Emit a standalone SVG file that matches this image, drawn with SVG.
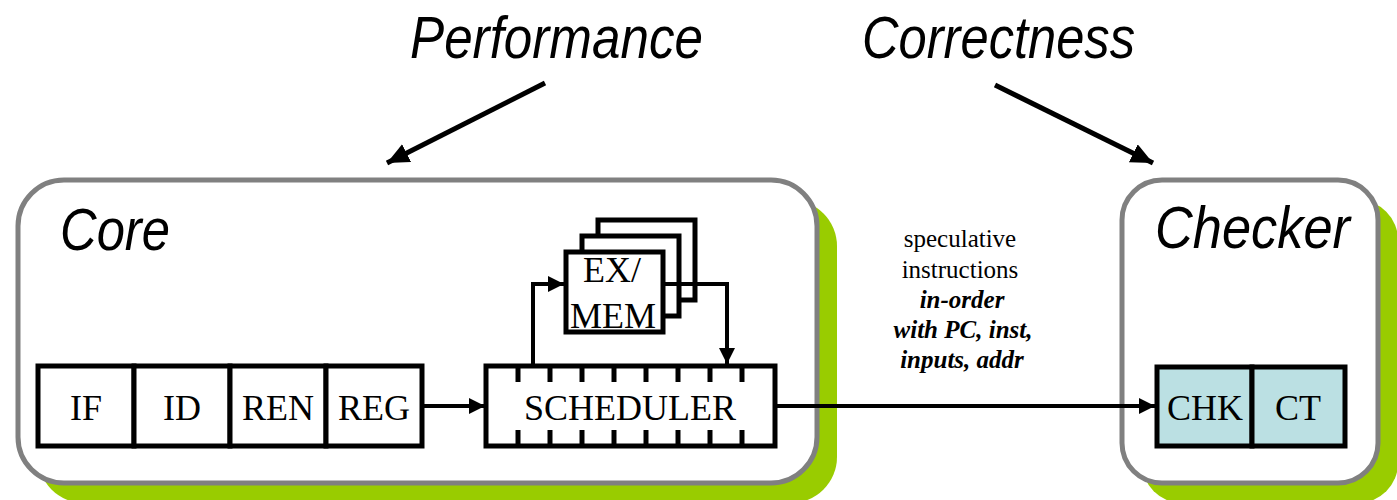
<svg xmlns="http://www.w3.org/2000/svg" width="1397" height="500" viewBox="0 0 1397 500">
  <style>
    .title { font-family: "Liberation Sans", Arial, sans-serif; font-style: italic; font-size: 60px; fill: #000; }
    .lbl { font-family: "Liberation Serif", "Times New Roman", serif; font-size: 36px; fill: #000; text-anchor: middle; }
    .note { font-family: "Liberation Serif", "Times New Roman", serif; font-size: 25px; fill: #000; text-anchor: middle; }
    .note-b { font-weight: bold; font-style: italic; }
    .shadow { fill: #99CC00; }
    .unit { fill: #FFFFFF; stroke: #808080; stroke-width: 5; }
    .stage { fill: #FFFFFF; stroke: #000; stroke-width: 5; }
    .chk { fill: #BBE0E3; stroke: #000; stroke-width: 5; }
    .tick { stroke: #000; stroke-width: 5; }
    .wire { fill: none; stroke: #000; stroke-width: 4; }
    .wire-thick { fill: none; stroke: #000; stroke-width: 5; }
  </style>
  <defs>
    <marker id="head" viewBox="0 0 16 16" refX="16" refY="8" markerWidth="16" markerHeight="16" markerUnits="userSpaceOnUse" orient="auto">
      <path d="M0,0 L16,8 L0,16 z" fill="#000"/>
    </marker>
    <marker id="head-big" viewBox="0 0 22 20" refX="22" refY="10" markerWidth="22" markerHeight="20" markerUnits="userSpaceOnUse" orient="auto">
      <path d="M0,0 L22,10 L0,20 z" fill="#000"/>
    </marker>
  </defs>

  <!-- top labels -->
  <g id="performance">
    <text class="title" x="410" y="58" textLength="293" lengthAdjust="spacingAndGlyphs">Performance</text>
  </g>
  <g id="correctness">
    <text class="title" x="862" y="58" textLength="273" lengthAdjust="spacingAndGlyphs">Correctness</text>
  </g>

  <!-- out-of-order core -->
  <g id="core">
    <rect class="shadow" x="38" y="200" width="799" height="303" rx="46"/>
    <rect class="unit" x="18" y="180" width="799" height="303" rx="46"/>
    <text class="title" x="60" y="250" textLength="110" lengthAdjust="spacingAndGlyphs">Core</text>
  </g>

  <!-- checker unit -->
  <g id="checker">
    <rect class="shadow" x="1142" y="200" width="256" height="303" rx="40"/>
    <rect class="unit" x="1122" y="180" width="256" height="303" rx="40"/>
    <text class="title" x="1155" y="248" textLength="195" lengthAdjust="spacingAndGlyphs">Checker</text>
  </g>

  <!-- front-end pipeline stages -->
  <g id="stage-if">
    <rect class="stage" x="38" y="366" width="96" height="80"/>
    <text class="lbl" x="86" y="420">IF</text>
  </g>
  <g id="stage-id">
    <rect class="stage" x="134" y="366" width="96" height="80"/>
    <text class="lbl" x="182" y="420">ID</text>
  </g>
  <g id="stage-ren">
    <rect class="stage" x="230" y="366" width="96" height="80"/>
    <text class="lbl" x="278" y="420">REN</text>
  </g>
  <g id="stage-reg">
    <rect class="stage" x="326" y="366" width="96" height="80"/>
    <text class="lbl" x="374" y="420">REG</text>
  </g>

  <!-- scheduler with issue slots -->
  <g id="scheduler">
    <rect class="stage" x="486" y="366" width="289" height="80"/>
    <g class="tick">
      <line x1="518" y1="366" x2="518" y2="382"/><line x1="518" y1="430" x2="518" y2="446"/>
      <line x1="550" y1="366" x2="550" y2="382"/><line x1="550" y1="430" x2="550" y2="446"/>
      <line x1="582" y1="366" x2="582" y2="382"/><line x1="582" y1="430" x2="582" y2="446"/>
      <line x1="614" y1="366" x2="614" y2="382"/><line x1="614" y1="430" x2="614" y2="446"/>
      <line x1="646" y1="366" x2="646" y2="382"/><line x1="646" y1="430" x2="646" y2="446"/>
      <line x1="678" y1="366" x2="678" y2="382"/><line x1="678" y1="430" x2="678" y2="446"/>
      <line x1="710" y1="366" x2="710" y2="382"/><line x1="710" y1="430" x2="710" y2="446"/>
      <line x1="742" y1="366" x2="742" y2="382"/><line x1="742" y1="430" x2="742" y2="446"/>
    </g>
    <text class="lbl" x="630" y="420">SCHEDULER</text>
  </g>

  <!-- stacked execution / memory units -->
  <g id="exmem">
    <rect class="stage" x="598" y="220" width="97" height="80"/>
    <rect class="stage" x="582" y="236" width="97" height="80"/>
    <rect class="stage" x="566" y="252" width="97" height="80"/>
    <text class="lbl" x="612" y="282">EX/</text>
    <text class="lbl" x="613" y="328">MEM</text>
  </g>

  <!-- commit-side check stages -->
  <g id="chk">
    <rect class="chk" x="1157" y="367" width="95" height="79"/>
    <text class="lbl" x="1205" y="420">CHK</text>
  </g>
  <g id="ct">
    <rect class="chk" x="1252" y="367" width="93" height="79"/>
    <text class="lbl" x="1298" y="420">CT</text>
  </g>

  <!-- label on the core-to-checker path -->
  <g id="stream-label">
    <text class="note" x="960" y="247">speculative</text>
    <text class="note" x="960" y="278">instructions</text>
    <text class="note note-b" x="962" y="308">in-order</text>
    <text class="note note-b" x="963" y="338">with PC, inst,</text>
    <text class="note note-b" x="962" y="368">inputs, addr</text>
  </g>

  <!-- connectors -->
  <g id="connectors">
    <line class="wire-thick" x1="545" y1="83" x2="387" y2="163" marker-end="url(#head-big)"/>
    <line class="wire-thick" x1="995" y1="85" x2="1153" y2="163" marker-end="url(#head-big)"/>
    <line class="wire" x1="424" y1="406" x2="485" y2="406" marker-end="url(#head)"/>
    <polyline class="wire" points="533,366 533,284 564,284" marker-end="url(#head)"/>
    <polyline class="wire" points="665,284 727,284 727,364" marker-end="url(#head)"/>
    <line class="wire" x1="777" y1="406" x2="1155" y2="406" marker-end="url(#head)"/>
  </g>
</svg>
